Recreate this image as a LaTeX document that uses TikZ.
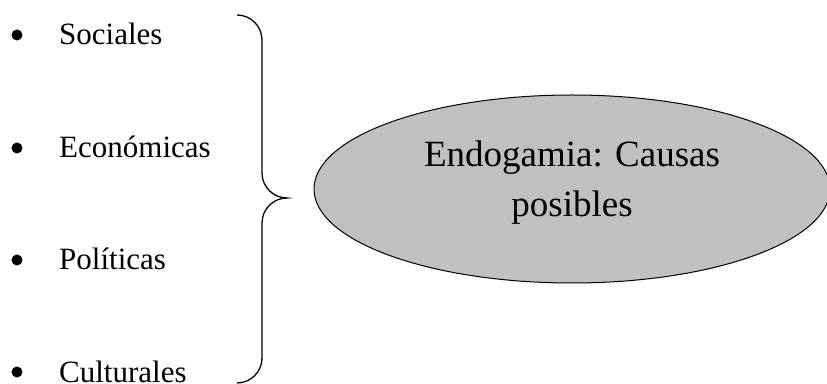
\documentclass[tikz,border=0pt]{standalone}
\usepackage{fontspec}
\setmainfont{Liberation Serif}
\usetikzlibrary{positioning,shapes.geometric}

\begin{document}
\begin{tikzpicture}[x=1pt,y=1pt,
    item/.style={anchor=base west,inner sep=0pt,font=\fontsize{31}{37}\selectfont},
    dot/.style={circle,fill,inner sep=0pt,minimum size=11pt},
    causa/.style={ellipse,draw,line width=1pt,fill={rgb,255:red,192;green,192;blue,192},
      minimum width=516pt,minimum height=188pt,inner sep=0pt},
    causatext/.style={align=center,inner sep=0pt,font=\fontsize{37}{50}\selectfont}]

  \useasboundingbox (0,0) rectangle (827,383);

  % List of causes
  \foreach \name/\txt/\yy in {soc/Sociales/338,eco/Económicas/225,pol/Políticas/113,cul/Culturales/1} {
    \node[dot] (b\name) at (17,\yy+10) {};
    \node[item] (\name) at (59,\yy) {\txt};
  }

  % Brace
  \draw[line width=1.3pt]
    (237,368) arc[start angle=90,end angle=0,radius=25]
    -- (262,210) arc[start angle=180,end angle=270,radius=25]
    coordinate (tip)
    arc[start angle=90,end angle=180,radius=25]
    -- (262,25) arc[start angle=0,end angle=-90,radius=25];

  % Ellipse
  \node[causa] (causas) at (572,194) {};
  \node[causatext] (causaslbl) at ([yshift=6pt]causas.center) {Endogamia: Causas\\posibles};

\end{tikzpicture}
\end{document}
